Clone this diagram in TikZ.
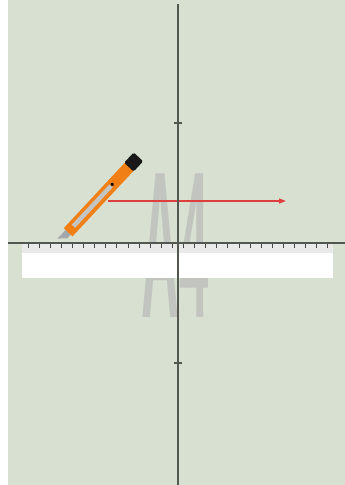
\documentclass[tikz,border=0pt]{standalone}
\usepackage{fontspec}
\setmainfont{Liberation Sans}
\usepackage{tikz}
\usetikzlibrary{arrows.meta}

\definecolor{paper}{RGB}{216,225,209}
\definecolor{axisgray}{RGB}{82,88,80}
\definecolor{tickgray}{RGB}{70,70,70}
\definecolor{lettergray}{RGB}{194,197,191}
\definecolor{cutred}{RGB}{222,62,62}
\definecolor{knifeorange}{RGB}{240,128,22}
\definecolor{slotgray}{RGB}{196,196,194}
\definecolor{bladegray}{RGB}{165,168,170}
\definecolor{rulerstrip}{RGB}{233,233,233}

\begin{document}
\begin{tikzpicture}[x = 1pt, y = 1pt, axis/.style = {draw = axisgray, line width = 1.1pt}, axistick/.style = {draw = axisgray, line width = 1.3pt}, rulertick/.style = {draw = tickgray, line width = 1pt}, cutline/.style = {draw = cutred, line width = 1.2pt, -{Triangle[length = 7pt, width = 5pt]}}]
	\useasboundingbox (-178,-242) rectangle (167,243);
	\fill[paper] (-170,-242) rectangle (167,243);
	\node[anchor = base west, inner sep = 0, text = lettergray, font = \bfseries\fontsize{209}{209}\selectfont] (sheet) at (-37,-74) {\scalebox{0.252}[1]{A4}};
	\coordinate (cutstart) at (-70,42);
	\coordinate (cutend) at (108,42);
	\draw[cutline] (cutstart) -- (cutend);
	\begin{scope}[shift = {(-118,2)}, rotate = 47]
		\fill[bladegray] (0,3.5) -- (14,3.5) -- (14,-3.5) -- (7,-3.5) -- cycle;
		\fill[knifeorange] (12,-6) rectangle (102,6);
		\fill[black!90, rounded corners = 1.5pt] (101,-6.5) rectangle (115,6.5);
		\fill[slotgray] (20,-2) rectangle (75,2.5);
		\fill[black] (77,0.5) circle (1.9);
	\end{scope}
	\coordinate (rulerleft) at (-156,0);
	\coordinate (rulerright) at (155,-35);
	\fill[white] (rulerleft) rectangle (rulerright);
	\fill[rulerstrip] (rulerleft) rectangle (155,-10);
	\foreach \i in {0,...,13}
	{
		\draw[rulertick] ({5.55+11.1*\i},0) -- ++(0,-5);
		\draw[rulertick] ({-5.55-11.1*\i},0) -- ++(0,-5);
	}
	\coordinate (xleft) at (-170,0);
	\coordinate (xright) at (167,0);
	\coordinate (ytop) at (0,239);
	\coordinate (ybottom) at (0,-242);
	\draw[axis] (xleft) -- (xright);
	\draw[axis] (ybottom) -- (ytop);
	\draw[axistick] (-4,120) -- (4,120);
	\draw[axistick] (-4,-120) -- (4,-120);
\end{tikzpicture}
\end{document}
